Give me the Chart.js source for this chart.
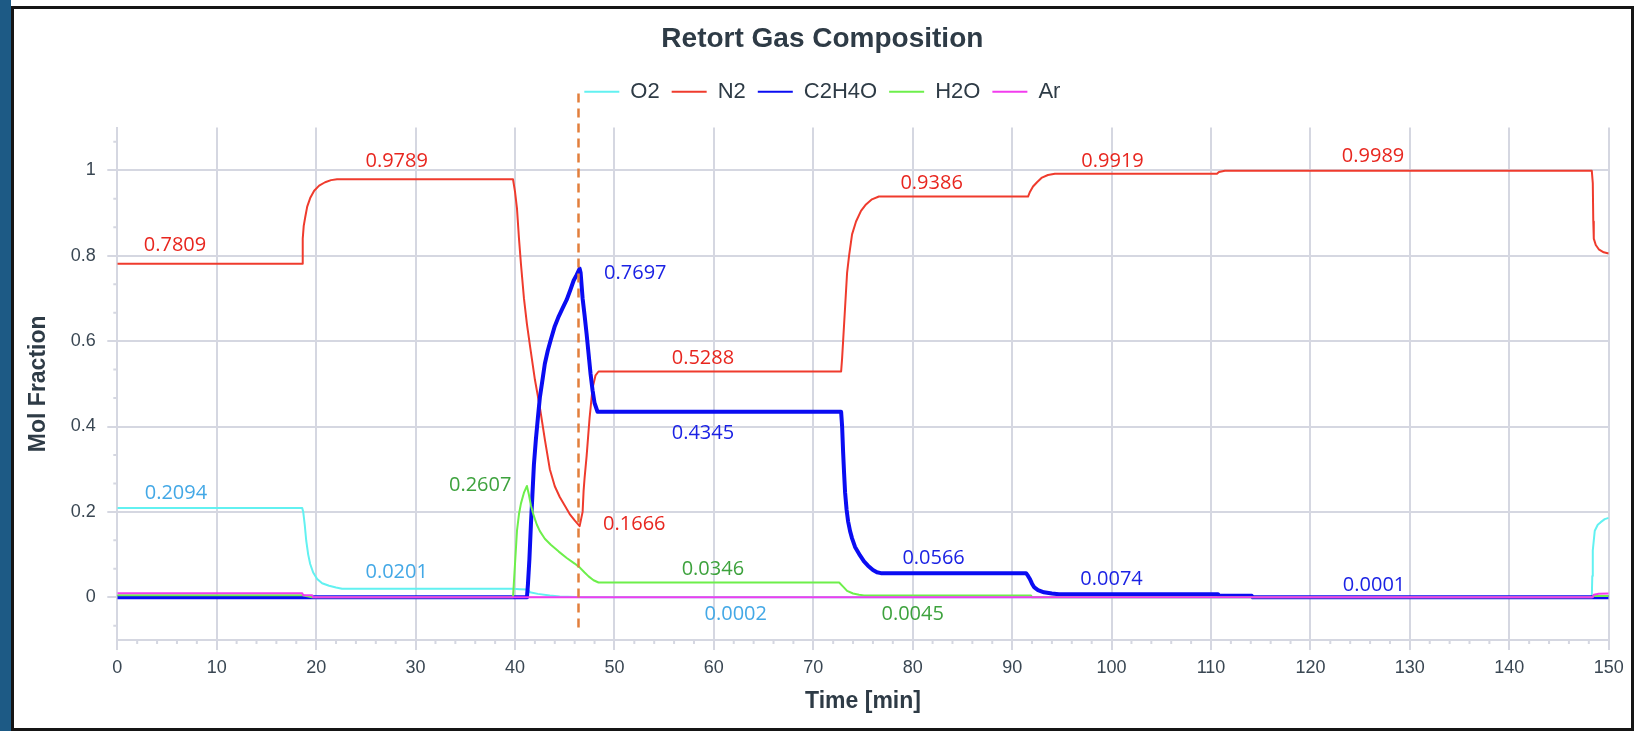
<!DOCTYPE html>
<html>
<head>
<meta charset="utf-8">
<title>Retort Gas Composition</title>
<script src="https://cdn.jsdelivr.net/npm/chart.js@4.4.1/dist/chart.umd.min.js"></script>
<style>
  html, body { margin: 0; padding: 0; background: #ffffff; }
  body { width: 1637px; height: 731px; position: relative; overflow: hidden; }
  #band { position: absolute; left: 0; top: 0; width: 11px; height: 731px; background: #1d5a85; }
  #frame { position: absolute; left: 11px; top: 6px; width: 1617px; height: 719px;
           border: 3px solid #151515; background: #ffffff; }
  canvas { display: block; }
</style>
</head>
<body>
<div id="band"></div>
<div id="frame"><canvas id="chart" width="1617" height="719"></canvas></div>
<script>
// ---- Retort gas composition vs. time (mol fractions) ----

// O2
const o2Time = [0, 18.6, 18.7, 18.85, 19.0, 19.2, 19.4, 19.7, 20.1, 20.6, 21.3, 22.0, 22.6,
                39.8, 40.5, 41.3, 41.5, 42.3, 43.5, 44.5, 46.9,
                148.3, 148.35, 148.4, 148.6, 148.9, 149.2, 149.6, 150];
const o2Frac = [0.2094, 0.2094, 0.200, 0.170, 0.133, 0.100, 0.078, 0.058, 0.043, 0.033, 0.027, 0.023, 0.0201,
                0.0201, 0.019, 0.018, 0.012, 0.008, 0.004, 0.002, 0.0002,
                0.0002, 0.050, 0.110, 0.156, 0.170, 0.176, 0.183, 0.186];

// N2
const n2Time = [0, 18.6, 18.65, 18.75, 18.9, 19.1, 19.4, 19.8, 20.3, 20.9, 21.5, 22.1,
                39.8, 40.0, 40.2, 40.4, 40.6, 40.9, 41.2, 41.5, 42.0, 42.5, 43.0, 43.5, 44.0, 44.5, 45.0, 45.5, 46.0, 46.5,
                46.8, 46.9, 47.0, 47.2, 47.5, 47.8, 48.1, 48.4,
                72.8, 72.9, 73.0, 73.2, 73.4, 73.6, 73.9, 74.3, 74.8, 75.3, 75.9, 76.6,
                91.6, 91.8, 92.1, 92.5, 93.0, 93.6, 94.3,
                110.6, 110.8, 111.4,
                148.3, 148.4, 148.45, 148.5, 148.7, 149.0, 149.5, 150];
const n2Frac = [0.7809, 0.7809, 0.840, 0.870, 0.890, 0.915, 0.935, 0.952, 0.964, 0.972, 0.977, 0.9789,
                0.9789, 0.950, 0.910, 0.840, 0.780, 0.700, 0.640, 0.590, 0.510, 0.445, 0.370, 0.300, 0.260, 0.235, 0.215, 0.195, 0.180, 0.1666,
                0.200, 0.250, 0.280, 0.330, 0.420, 0.490, 0.520, 0.5288,
                0.5288, 0.560, 0.600, 0.680, 0.760, 0.800, 0.850, 0.880, 0.905, 0.920, 0.932, 0.9386,
                0.9386, 0.950, 0.962, 0.972, 0.983, 0.989, 0.9919,
                0.9919, 0.996, 0.9989,
                0.9989, 0.970, 0.880, 0.840, 0.825, 0.815, 0.808, 0.805];

// C2H4O
const c2h4oTime = [0, 41.2, 41.3, 41.45, 41.6, 41.75, 41.9, 42.1, 42.3, 42.5, 42.8, 43.0, 43.3, 43.6,
                   44.0, 44.4, 44.8, 45.2, 45.6, 45.9, 46.2, 46.5,
                   46.6, 46.8, 47.0, 47.2, 47.4, 47.6, 47.8, 48.0, 48.3,
                   72.8, 72.9, 73.0, 73.1, 73.2, 73.35, 73.5, 73.7, 73.9, 74.2, 74.7, 75.1, 75.5, 76.0, 76.4, 76.8,
                   91.4, 91.6, 91.8, 92.0, 92.2, 92.6, 93.2, 94.0, 94.7,
                   110.7, 110.8, 114.1, 114.2, 150];
const c2h4oFrac = [0, 0, 0.030, 0.090, 0.170, 0.240, 0.310, 0.370, 0.420, 0.468, 0.515, 0.547, 0.578, 0.603,
                   0.635, 0.658, 0.678, 0.697, 0.722, 0.742, 0.755, 0.7697,
                   0.760, 0.700, 0.660, 0.617, 0.570, 0.523, 0.485, 0.455, 0.4345,
                   0.4345, 0.400, 0.340, 0.290, 0.245, 0.205, 0.178, 0.155, 0.138, 0.118, 0.098, 0.084, 0.074, 0.064, 0.0586, 0.0566,
                   0.0566, 0.050, 0.042, 0.032, 0.024, 0.017, 0.0117, 0.009, 0.0074,
                   0.0074, 0.0035, 0.0035, 0.0001, 0.0001];

// H2O
const h2oTime = [0, 18.6, 19.6, 39.8, 40.0, 40.2, 40.4, 40.6, 40.9, 41.2,
                 41.4, 41.6, 41.9, 42.2, 42.5, 43.0, 43.6, 44.4, 45.2, 46.0, 46.5, 47.0, 47.4, 47.9, 48.4,
                 72.6, 73.0, 73.4, 74.0, 74.6, 75.1,
                 91.9, 92.0, 148.3, 148.5, 150];
const h2oFrac = [0.0047, 0.0047, 0.0003, 0.0003, 0.078, 0.156, 0.195, 0.220, 0.245, 0.2607,
                 0.240, 0.215, 0.190, 0.170, 0.155, 0.137, 0.123, 0.107, 0.092, 0.079, 0.070, 0.058, 0.049, 0.040, 0.0346,
                 0.0346, 0.025, 0.015, 0.009, 0.006, 0.0045,
                 0.0045, 0.0003, 0.0003, 0.003, 0.003];

// Ar
const arTime = [0, 18.6, 18.7, 19.6, 19.7, 148.4, 148.5, 149.0, 150];
const arFrac = [0.0093, 0.0093, 0.005, 0.005, 0.0001, 0.0001, 0.006, 0.0085, 0.0088];

// value call-outs, anchored in data space (time, fraction)
const calloutValues = [0.7809, 0.9789, 0.9386, 0.9919, 0.9989, 0.5288, 0.1666,
                       0.7697, 0.4345, 0.0566, 0.0074, 0.0001,
                       0.2607, 0.0346, 0.0045,
                       0.2094, 0.0201, 0.0002];
const calloutSeries = ['N2', 'N2', 'N2', 'N2', 'N2', 'N2', 'N2',
                       'C2H4O', 'C2H4O', 'C2H4O', 'C2H4O', 'C2H4O',
                       'H2O', 'H2O', 'H2O',
                       'O2', 'O2', 'O2'];
const calloutTime = [5.8, 28.1, 81.9, 100.1, 126.3, 58.9, 52.0,
                     52.1, 58.9, 82.1, 100.0, 126.4,
                     36.5, 59.9, 80.0,
                     5.9, 28.1, 62.2];
const calloutFrac = [0.824, 1.020, 0.969, 1.022, 1.032, 0.560, 0.170,
                     0.759, 0.3845, 0.0906, 0.0413, 0.028,
                     0.262, 0.065, -0.040,
                     0.243, 0.059, -0.040];

// axes
const xTickValues = [0, 10, 20, 30, 40, 50, 60, 70, 80, 90, 100, 110, 120, 130, 140, 150];
const yTickValues = [0, 0.2, 0.4, 0.6, 0.8, 1];
const yTickLabels = ['0', '0.2', '0.4', '0.6', '0.8', '1'];
const markerTime = 46.3;   // vertical cursor at the C2H4O peak

// ---- styling ----
const gridColor = '#d5d7e1';
const tickColor = '#3a4753';
const titleColor = '#2e3b46';
const lineColors = { O2: '#62f1f1', N2: '#ef3b2d', C2H4O: '#0a0cf2', H2O: '#6def4b', Ar: '#f23cee' };
const labelColors = { O2: '#43a8e6', N2: '#e8261f', C2H4O: '#1b22e4', H2O: '#3da23d' };

Chart.defaults.font.family = '"Liberation Sans", Arial, sans-serif';

function points(times, fracs) {
  return times.map((t, i) => ({ x: t, y: fracs[i] }));
}

const minorTicks = {
  id: 'minorTicks',
  afterDraw(chart) {
    const { ctx, chartArea, scales: { x, y } } = chart;
    ctx.save();
    ctx.strokeStyle = gridColor;
    ctx.lineWidth = 2;
    ctx.beginPath();
    for (let t = 2; t < 150; t += 2) {
      if (t % 10 === 0) continue;
      const px = x.getPixelForValue(t);
      ctx.moveTo(px, chartArea.bottom);
      ctx.lineTo(px, chartArea.bottom + 4);
    }
    for (let k = -1; k <= 16; k++) {
      if (k % 3 === 0) continue;
      const py = y.getPixelForValue(k / 15);
      ctx.moveTo(chartArea.left - 4, py);
      ctx.lineTo(chartArea.left, py);
    }
    ctx.stroke();
    ctx.restore();
  }
};

const cursorAndCallouts = {
  id: 'cursorAndCallouts',
  afterDatasetsDraw(chart) {
    const { ctx, scales: { x, y } } = chart;
    ctx.save();
    // dashed time cursor
    const px = Math.round(x.getPixelForValue(markerTime)) + 0.5;
    ctx.strokeStyle = '#e27f3c';
    ctx.lineWidth = 2.5;
    ctx.setLineDash([9, 6]);
    ctx.beginPath();
    ctx.moveTo(px, y.getPixelForValue(1.18));
    ctx.lineTo(px, y.getPixelForValue(-0.085));
    ctx.stroke();
    ctx.setLineDash([]);
    // value call-outs
    ctx.font = '20px "Open Sans", "Noto Sans", sans-serif';
    ctx.textAlign = 'center';
    ctx.textBaseline = 'middle';
    calloutValues.forEach((v, i) => {
      ctx.fillStyle = labelColors[calloutSeries[i]];
      ctx.fillText(v.toFixed(4), x.getPixelForValue(calloutTime[i]), y.getPixelForValue(calloutFrac[i]));
    });
    ctx.restore();
  }
};

function series(label, times, fracs, width, order) {
  return {
    label,
    data: points(times, fracs),
    borderColor: lineColors[label],
    backgroundColor: lineColors[label],
    borderWidth: width,
    pointRadius: 0,
    pointHoverRadius: 0,
    tension: 0,
    fill: false,
    borderJoinStyle: 'round',
    order
  };
}

new Chart(document.getElementById('chart'), {
  type: 'line',
  data: {
    datasets: [
      series('O2', o2Time, o2Frac, 2, 5),
      series('N2', n2Time, n2Frac, 2, 4),
      series('C2H4O', c2h4oTime, c2h4oFrac, 4, 3),
      series('H2O', h2oTime, h2oFrac, 2, 2),
      series('Ar', arTime, arFrac, 2, 1)
    ]
  },
  options: {
    responsive: false,
    animation: false,
    devicePixelRatio: 1,
    events: [],
    layout: { padding: { left: 22, right: 22.3, top: 0, bottom: 0 } },
    plugins: {
      title: {
        display: true,
        text: 'Retort Gas Composition',
        color: titleColor,
        font: { size: 28, weight: 'bold', lineHeight: 1.2 },
        padding: { top: 13, bottom: 13.1 }
      },
      legend: {
        display: true,
        position: 'top',
        labels: {
          usePointStyle: true,
          pointStyle: 'line',
          pointStyleWidth: 35,
          color: titleColor,
          font: { size: 22 },
          padding: 12,
          sort: (a, b) => a.datasetIndex - b.datasetIndex,
          generateLabels(chart) {
            const items = Chart.defaults.plugins.legend.labels.generateLabels(chart);
            items.forEach(it => { it.lineWidth = 2; it.pointStyle = 'line'; });
            return items;
          }
        }
      },
      subtitle: {
        display: true,
        text: ' ',
        weight: 100,
        font: { size: 10, lineHeight: 1 },
        padding: { top: 0, bottom: 4.9 }
      },
      tooltip: { enabled: false }
    },
    scales: {
      x: {
        type: 'linear',
        min: 0,
        max: 150,
        afterBuildTicks: s => { s.ticks = xTickValues.map(v => ({ value: v })); },
        afterFit: s => { s.height = 88; },
        ticks: { color: tickColor, font: { size: 18 }, padding: 7.2, maxRotation: 0, autoSkip: false },
        grid: { color: gridColor, lineWidth: 2, tickLength: 10 },
        border: { display: true, color: gridColor, width: 2 },
        title: {
          display: true,
          text: 'Time [min]',
          color: titleColor,
          font: { size: 23, weight: 'bold', lineHeight: 1.2 },
          padding: { top: 0, bottom: 12.7 }
        }
      },
      y: {
        type: 'linear',
        min: -0.1,
        max: 1.1,
        afterBuildTicks: s => { s.ticks = yTickValues.map(v => ({ value: v })); },
        afterFit: s => { s.width = 81.3; },
        ticks: { color: tickColor, font: { size: 18 }, padding: 11.6, callback: (v, i) => yTickLabels[i] },
        grid: { color: gridColor, lineWidth: 2, tickLength: 10 },
        border: { display: true, color: gridColor, width: 2 },
        title: {
          display: true,
          text: 'Mol Fraction',
          color: titleColor,
          font: { size: 23, weight: 'bold', lineHeight: 1.2 },
          padding: { top: -11.5, bottom: 0 }
        }
      }
    }
  },
  plugins: [minorTicks, cursorAndCallouts]
});
</script>
</body>
</html>
